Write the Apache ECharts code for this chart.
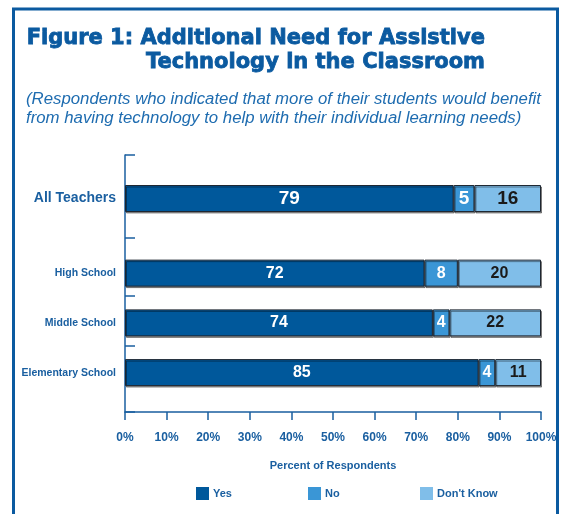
<!DOCTYPE html>
<html>
<head>
<meta charset="utf-8">
<script src="https://cdn.jsdelivr.net/npm/echarts@6/dist/echarts.min.js"></script>
<style>
  html, body { margin: 0; padding: 0; background: #fff; }
  #main { width: 563px; height: 514px; }
</style>
</head>
<body>
<div id="main"></div>
<script>
// 数据
const groups = ['All Teachers', 'High School', 'Middle School', 'Elementary School']
const yesValues = [79, 72, 74, 85]
const noValues = [5, 8, 4, 4]
const dontKnowValues = [16, 20, 22, 11]
const seriesNames = ['Yes', 'No', "Don't Know"]
const xTickLabels = ['0%', '10%', '20%', '30%', '40%', '50%', '60%', '70%', '80%', '90%', '100%']

// 类目轴的分槽布局（参考图的行距不均匀）
const SLOT_COUNT = 62
const groupSlots = [10, 28, 40, 52]
const tickSlots = [0, 20, 34, 46]

const blue = '#0b5aa0'
const axisBlue = '#1a5fa0'
const colors = ['#00589b', '#3a96d6', '#80bee9']
const font = "'Liberation Sans', Arial, sans-serif"

const slotNames = []
for (let i = 0; i < SLOT_COUNT; i++) slotNames.push('s' + i)

function slotData (values) {
  const arr = new Array(SLOT_COUNT).fill('-')
  groupSlots.forEach((s, i) => {
    arr[s] = { value: values[i], label: { fontSize: i === 0 ? 19 : 16 } }
  })
  return arr
}

function makeSeries (name, values, color, labelColor) {
  return {
    name: name,
    type: 'bar',
    stack: 'total',
    barWidth: 27,
    data: slotData(values),
    itemStyle: {
      color: color,
      borderColor: '#1e2630',
      borderWidth: 1,
      shadowColor: 'rgba(0,0,0,0.4)',
      shadowBlur: 0,
      shadowOffsetX: 1,
      shadowOffsetY: 1.5
    },
    label: {
      show: true,
      position: 'inside',
      color: labelColor,
      fontFamily: font,
      fontWeight: 'bold'
    }
  }
}

function makeLegend (name, left) {
  return {
    data: [name],
    left: left,
    top: 487,
    padding: 0,
    icon: 'rect',
    itemWidth: 13,
    itemHeight: 13,
    itemGap: 0,
    itemStyle: { borderWidth: 0, shadowBlur: 0, shadowOffsetX: 0, shadowOffsetY: 0 },
    textStyle: { color: axisBlue, fontFamily: font, fontWeight: 'bold', fontSize: 11, padding: [0, 0, 0, -1] }
  }
}

const myChart = echarts.init(document.getElementById('main'))

myChart.setOption({
  backgroundColor: '#fff',
  animation: false,
  graphic: [{
    type: 'rect',
    shape: { x: 13.5, y: 9, width: 544, height: 620 },
    style: { fill: 'none', stroke: blue, lineWidth: 3 },
    silent: true
  }],
  title: [{
    text: 'Figure 1: Additional Need for Assistive\nTechnology in the Classroom',
    left: 485,
    top: 26,
    textAlign: 'right',
    padding: 0,
    textStyle: {
      color: blue,
      fontFamily: "'DejaVu Sans', sans-serif",
      fontWeight: 'bold',
      fontSize: 21,
      lineHeight: 24.5,
      textBorderColor: blue,
      textBorderWidth: 0.8
    }
  }, {
    text: '(Respondents who indicated that more of their students would benefit\nfrom having technology to help with their individual learning needs)',
    left: 26,
    top: 90,
    padding: 0,
    textStyle: {
      color: '#1e6cb0',
      fontFamily: font,
      fontStyle: 'italic',
      fontWeight: 'normal',
      fontSize: 16.8,
      lineHeight: 19
    }
  }],
  legend: [
    makeLegend(seriesNames[0], 196),
    makeLegend(seriesNames[1], 308),
    makeLegend(seriesNames[2], 420)
  ],
  grid: { left: 125, right: 22, top: 155, bottom: 102, containLabel: false },
  xAxis: {
    type: 'value',
    min: 0,
    max: 100,
    interval: 10,
    splitLine: { show: false },
    axisLine: { show: true, lineStyle: { color: axisBlue, width: 1.5 } },
    axisTick: { show: true, length: 8, lineStyle: { color: axisBlue, width: 1.5 } },
    axisLabel: {
      margin: 20,
      color: axisBlue,
      fontFamily: font,
      fontWeight: 'bold',
      fontSize: 12,
      formatter: v => xTickLabels[Math.round(v / 10)]
    },
    name: 'Percent of Respondents',
    nameLocation: 'middle',
    nameGap: 48,
    nameTextStyle: { color: axisBlue, fontFamily: font, fontWeight: 'bold', fontSize: 11 }
  },
  yAxis: {
    type: 'category',
    inverse: true,
    data: slotNames,
    axisLine: { show: true, lineStyle: { color: axisBlue, width: 1.5 } },
    axisTick: {
      show: true,
      inside: true,
      length: 10,
      interval: (i) => tickSlots.indexOf(i) >= 0,
      lineStyle: { color: axisBlue, width: 1.5 }
    },
    axisLabel: {
      interval: 0,
      margin: 9,
      formatter: (v, i) => {
        const g = groupSlots.indexOf(i)
        if (g < 0) return ''
        return g === 0 ? '{big|' + groups[g] + '}' : '{small|' + groups[g] + '}'
      },
      rich: {
        big: { color: axisBlue, fontFamily: font, fontWeight: 'bold', fontSize: 14 },
        small: { color: axisBlue, fontFamily: font, fontWeight: 'bold', fontSize: 10.5 }
      }
    }
  },
  series: [
    makeSeries(seriesNames[0], yesValues, colors[0], '#fff'),
    makeSeries(seriesNames[1], noValues, colors[1], '#fff'),
    makeSeries(seriesNames[2], dontKnowValues, colors[2], '#1a1a1a')
  ]
})
</script>
</body>
</html>
